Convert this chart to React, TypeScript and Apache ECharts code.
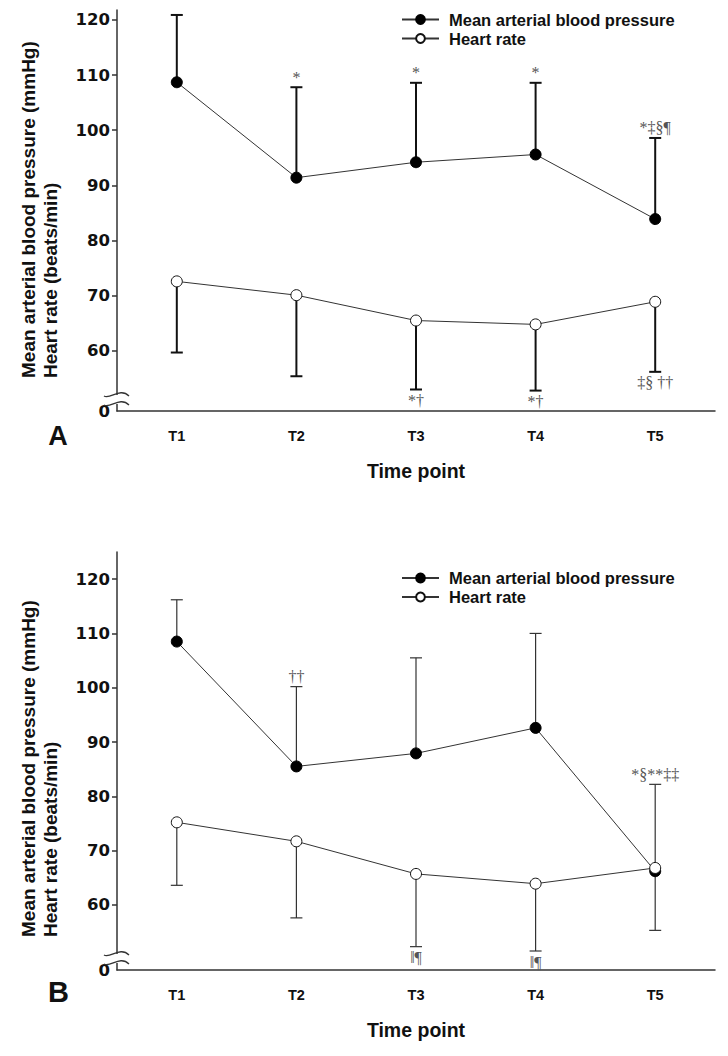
import React, { useEffect, useRef } from "react";
import * as echarts from "echarts";

const categories = ["T1", "T2", "T3", "T4", "T5"];
const yTickValues = [60, 70, 80, 90, 100, 110, 120];

// Panel A
const mapA = [108.7, 91.4, 94.2, 95.6, 83.9];
const mapAUpper = [120.9, 107.8, 108.6, 108.6, 98.6];
const mapAAnnot = ["", "*", "*", "*", "*‡§¶"];
const hrA = [72.6, 70.1, 65.5, 64.8, 68.9];
const hrALower = [59.7, 55.4, 53.0, 52.8, 56.2];
const hrAAnnot = ["", "", "*†", "*†", "‡§ ††"];

// Panel B
const mapB = [108.5, 85.5, 87.9, 92.6, 66.2];
const mapBUpper = [116.2, 100.2, 105.5, 110.0, 82.2];
const mapBAnnot = ["", "††", "", "", "*§**‡‡"];
const hrB = [75.2, 71.7, 65.7, 63.9, 66.8];
const hrBLower = [63.6, 57.6, 52.3, 51.5, 55.3];
const hrBAnnot = ["", "", "‖¶", "‖¶", ""];

const SANS = '"Liberation Sans", Arial, sans-serif';
const SERIF = '"Liberation Serif", "Times New Roman", serif';
const MAP_NAME = "Mean arterial blood pressure";
const HR_NAME = "Heart rate";

const yMinA = 49.1, yMaxA = 121.8;
const yMinB = 48.0, yMaxB = 125.0;

function errorSeries(axis: number, means: number[], ends: number[], annots: string[], lw: number, color: string) {
  return {
    type: "custom",
    xAxisIndex: axis,
    yAxisIndex: axis,
    z: 1,
    clip: false,
    data: means.map((m, i) => [i, m, ends[i]]),
    encode: { x: 0, y: [1, 2] },
    renderItem: (params: any, api: any) => {
      const i = api.value(0);
      const p0 = api.coord([i, api.value(1)]);
      const p1 = api.coord([i, api.value(2)]);
      const up = p1[1] < p0[1];
      const txt = annots[params.dataIndex];
      const children: any[] = [
        { type: "line", shape: { x1: p0[0], y1: p0[1], x2: p1[0], y2: p1[1] }, style: { stroke: color, lineWidth: lw } },
        { type: "line", shape: { x1: p1[0] - 6, y1: p1[1], x2: p1[0] + 6, y2: p1[1] }, style: { stroke: color, lineWidth: lw } },
      ];
      if (txt) {
        children.push({
          type: "text",
          x: p1[0],
          y: up ? p1[1] - 2 : p1[1] + 3,
          style: { text: txt, fill: "#555", font: `16px ${SERIF}`, align: "center", verticalAlign: up ? "bottom" : "top" },
        });
      }
      return { type: "group", children };
    },
  };
}

function lineSeries(axis: number, name: string, data: number[], filled: boolean) {
  return {
    type: "line",
    name,
    xAxisIndex: axis,
    yAxisIndex: axis,
    z: 3,
    data,
    symbol: "circle",
    symbolSize: 11,
    lineStyle: { color: "#333", width: 1 },
    itemStyle: filled
      ? { color: "#000", borderColor: "#000", borderWidth: 1 }
      : { color: "#fff", borderColor: "#111", borderWidth: 1 },
  };
}

function xAxis(grid: number) {
  return {
    type: "category",
    gridIndex: grid,
    data: categories,
    boundaryGap: true,
    axisLine: { lineStyle: { color: "#333", width: 1.5 } },
    axisTick: { alignWithLabel: true, length: 5, lineStyle: { color: "#333", width: 1.5 } },
    axisLabel: { fontFamily: SANS, fontWeight: "bold", fontSize: 14.5, color: "#111", margin: 17 },
    name: "Time point",
    nameLocation: "middle",
    nameGap: 50,
    nameTextStyle: { fontFamily: SANS, fontWeight: "bold", fontSize: 19.5, color: "#111", verticalAlign: "top" },
  };
}

function yAxis(grid: number, min: number, max: number) {
  return {
    type: "value",
    gridIndex: grid,
    min,
    max,
    splitLine: { show: false },
    axisLine: { show: true, onZero: false, lineStyle: { color: "#333", width: 1.5 } },
    axisTick: { show: true, length: 5, customValues: yTickValues, lineStyle: { color: "#333", width: 1.5 } },
    axisLabel: {
      customValues: [min, ...yTickValues],
      formatter: (v: number) => (v < 55 ? "0" : String(Math.round(v))),
      fontFamily: '"DejaVu Sans", sans-serif',
      fontWeight: "bold",
      fontSize: 16.5,
      color: "#111",
      margin: 7,
    },
  };
}

function breakMarks(bottom: number) {
  const mk = (y: number) => ({
    type: "bezierCurve",
    z: 100,
    shape: { x1: 104, y1: y + 1, cpx1: 110, cpy1: y + 5, cpx2: 120, cpy2: y - 8, x2: 129, y2: y + 1 },
    style: { stroke: "#333", lineWidth: 1.3, fill: null },
  });
  return [
    { type: "rect", z: 99, shape: { x: 114, y: bottom - 16, width: 6, height: 9 }, style: { fill: "#fff" } },
    mk(bottom - 16),
    mk(bottom - 7),
  ];
}

function yName(x: number, y: number, text: string) {
  return {
    type: "text",
    x,
    y,
    rotation: Math.PI / 2,
    style: { text, font: `bold 19px ${SANS}`, fill: "#111", align: "left", verticalAlign: "middle" },
  };
}

export default function App() {
  const ref = useRef<HTMLDivElement>(null);
  useEffect(() => {
    if (!ref.current) return;
    const chart = echarts.init(ref.current, undefined, { renderer: "svg" });
    const legendCommon = {
      orient: "vertical",
      left: 401,
      padding: 0,
      itemWidth: 37,
      itemHeight: 11,
      itemGap: 2,
      data: [MAP_NAME, HR_NAME],
      textStyle: { fontFamily: SANS, fontWeight: "bold", fontSize: 16.5, color: "#111", lineHeight: 17, padding: [0, 0, 0, 5] },
      selectedMode: false,
    };
    chart.setOption({
      animation: false,
      backgroundColor: "#fff",
      grid: [
        { left: 117, top: 10, width: 598, height: 401, containLabel: false },
        { left: 117, top: 552, width: 598, height: 418, containLabel: false },
      ],
      legend: [
        { ...legendCommon, top: 11 },
        { ...legendCommon, top: 569.5 },
      ],
      xAxis: [xAxis(0), xAxis(1)],
      yAxis: [yAxis(0, yMinA, yMaxA), yAxis(1, yMinB, yMaxB)],
      series: [
        errorSeries(0, mapA, mapAUpper, mapAAnnot, 2, "#111"),
        errorSeries(0, hrA, hrALower, hrAAnnot, 2, "#111"),
        lineSeries(0, MAP_NAME, mapA, true),
        lineSeries(0, HR_NAME, hrA, false),
        errorSeries(1, mapB, mapBUpper, mapBAnnot, 1.2, "#333"),
        errorSeries(1, hrB, hrBLower, hrBAnnot, 1.2, "#333"),
        lineSeries(1, MAP_NAME, mapB, true),
        lineSeries(1, HR_NAME, hrB, false),
      ],
      graphic: [
        yName(28, 378, "Mean arterial blood pressure (mmHg)"),
        yName(50, 378, "Heart rate (beats/min)"),
        yName(28, 937, "Mean arterial blood pressure (mmHg)"),
        yName(50, 937, "Heart rate (beats/min)"),
        { type: "text", x: 58, y: 436, style: { text: "A", font: `bold 27px ${SANS}`, fill: "#111", align: "center", verticalAlign: "middle" } },
        { type: "text", x: 58.5, y: 992, style: { text: "B", font: `bold 29px ${SANS}`, fill: "#111", align: "center", verticalAlign: "middle" } },
        ...breakMarks(411),
        ...breakMarks(970),
      ],
    });
    return () => chart.dispose();
  }, []);
  return <div ref={ref} style={{ position: "absolute", left: 0, top: 0, width: 728, height: 1056 }} />;
}
